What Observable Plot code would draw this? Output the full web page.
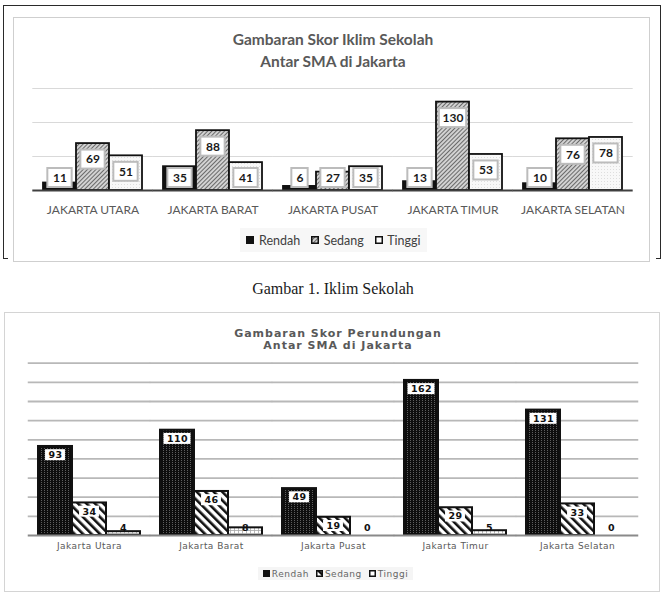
<!DOCTYPE html>
<html>
<head>
<meta charset="utf-8">
<script src="https://cdn.jsdelivr.net/npm/d3@7"></script>
<script src="https://cdn.jsdelivr.net/npm/@observablehq/plot@0.6"></script>
<style>
html,body{margin:0;padding:0;background:#fff;}
#page{position:relative;width:666px;height:596px;overflow:hidden;background:#fff;}
.abs{position:absolute;box-sizing:border-box;}
#outerA{left:3px;top:5px;width:658px;height:254px;border-top:1.5px solid #2a2a2a;border-left:1.5px solid #2a2a2a;border-right:1.5px solid #2a2a2a;}
#tickL{left:3px;top:257.5px;width:5px;height:1.5px;background:#2a2a2a;}
#tickR{left:656px;top:257.5px;width:5px;height:1.5px;background:#2a2a2a;}
#innerA{left:13px;top:17px;width:637px;height:245px;border:1.5px solid #cfcfcf;}
#titleA{left:0;top:29px;width:666px;text-align:center;font-family:Lato;font-weight:bold;font-size:15.5px;line-height:21.7px;color:#595959;}
#chartA{left:14px;top:70px;}
#legendA{left:240px;top:228px;width:187px;height:24px;background:#f7f7f7;display:flex;align-items:center;justify-content:center;font-family:Lato;font-size:12.5px;color:#404040;}
#legendA .it{display:flex;align-items:center;margin:0 5.5px;}
#legendA svg{margin-right:4.5px;}
#caption{left:0;top:280px;width:666px;text-align:center;font-family:"Liberation Serif";font-size:16px;line-height:18px;color:#1a1a1a;}
#frameB{left:4px;top:312px;width:656px;height:280px;border:1px solid #d4d4d4;}
#titleB{left:0;top:327.5px;width:666px;padding-left:10px;text-align:center;font-family:"DejaVu Sans";font-weight:bold;font-size:11px;letter-spacing:1px;line-height:12.6px;color:#595959;}
#chartB{left:4px;top:350px;}
#legendB{left:258px;top:567px;width:155px;height:13px;background:#f5f5f5;display:flex;align-items:center;justify-content:center;font-family:"DejaVu Sans";font-size:9px;letter-spacing:0.5px;color:#666;}
#legendB .it{display:flex;align-items:center;margin:0 3.5px;}
#legendB svg{margin-right:2px;}
</style>
</head>
<body>
<div id="page">
<svg width="0" height="0" style="position:absolute">
<defs>
<pattern id="aSed" width="3" height="3" patternUnits="userSpaceOnUse" patternTransform="rotate(45)">
<rect width="3" height="3" fill="#d2d2d2"/><rect width="1" height="3" fill="#6a6a6a"/>
</pattern>
<pattern id="aTin" width="3" height="3" patternUnits="userSpaceOnUse">
<rect width="3" height="3" fill="#f8f8f8"/><rect width="1" height="1" fill="#dedede"/>
</pattern>
<pattern id="bRen" width="3" height="2" patternUnits="userSpaceOnUse">
<rect width="3" height="2" fill="#0e0e0e"/><rect x="1" width="1" height="1" fill="#5e5e5e"/>
</pattern>
<pattern id="bSed" width="6" height="6" patternUnits="userSpaceOnUse" patternTransform="rotate(-45)">
<rect width="6" height="6" fill="#fff"/><rect width="2.6" height="6" fill="#111"/>
</pattern>
<pattern id="bTin" width="4" height="3" patternUnits="userSpaceOnUse">
<rect width="4" height="3" fill="#fff"/><rect width="4" height="0.8" fill="#a8a8a8"/><rect width="0.8" height="3" fill="#a8a8a8"/>
</pattern>
</defs>
</svg>

<div class="abs" id="outerA"></div>
<div class="abs" id="tickL"></div>
<div class="abs" id="tickR"></div>
<div class="abs" id="innerA"></div>
<div class="abs" id="titleA">Gambaran Skor Iklim Sekolah<br>Antar SMA di Jakarta</div>
<div class="abs" id="chartA"></div>
<div class="abs" id="legendA"></div>
<div class="abs" id="caption">Gambar 1. Iklim Sekolah</div>
<div class="abs" id="frameB"></div>
<div class="abs" id="titleB">Gambaran Skor Perundungan<br>Antar SMA di Jakarta</div>
<div class="abs" id="chartB"></div>
<div class="abs" id="legendB"></div>
</div>

<script>
// ---------- data ----------
const levels = ["Rendah", "Sedang", "Tinggi"];

const iklimRegions = ["JAKARTA UTARA", "JAKARTA BARAT", "JAKARTA PUSAT", "JAKARTA TIMUR", "JAKARTA SELATAN"];
const iklimRendah = [11, 35, 6, 13, 10];
const iklimSedang = [69, 88, 27, 130, 76];
const iklimTinggi = [51, 41, 35, 53, 78];
const iklimGrid = [50, 100, 150];

const bullyRegions = ["Jakarta Utara", "Jakarta Barat", "Jakarta Pusat", "Jakarta Timur", "Jakarta Selatan"];
const bullyRendah = [93, 110, 49, 162, 131];
const bullySedang = [34, 46, 19, 29, 33];
const bullyTinggi = [4, 8, 0, 5, 0];
const bullyGrid = [20, 40, 60, 80, 100, 120, 140, 160, 180];

function rows(regions, series) {
  return regions.flatMap((r, i) => levels.map((l, j) => ({region: r, level: l, value: series[j][i]})));
}

function chart(o) {
  const plotW = o.width - o.ml - o.mr, plotH = o.height - o.mt - o.mb;
  const k = plotH / o.yMax;
  const step = plotW / o.regions.length;
  const ext = step * o.gap / 2;
  const band = step * (1 - o.gap) / levels.length;
  const data = rows(o.regions, o.series).map(d => {
    const px = d.value * k - o.labelDrop;
    const inside = px > o.labelMin;
    return {...d, inside, anchor: (inside ? px : o.labelMin) / k, digits: String(d.value).length};
  });
  const marks = [
    Plot.ruleY(o.grid, {stroke: o.gridColor, strokeWidth: o.gridWidth, insetLeft: -ext, insetRight: -ext})
  ];
  levels.forEach((l, j) => {
    marks.push(Plot.barY(data.filter(d => d.level === l && d.value > 0), {
      fx: "region", x: "level", y: "value",
      fill: o.fills[j], stroke: o.barStroke, strokeWidth: o.barStrokeWidth
    }));
  });
  marks.push(Plot.ruleY([0], {stroke: o.baseColor, strokeWidth: o.baseWidth, insetLeft: -ext, insetRight: -ext}));
  Object.entries(o.boxW).forEach(([dg, w]) => {
    marks.push(Plot.barY(data.filter(d => d.digits == dg && (o.boxAll || d.inside)), {
      fx: "region", x: "level", y1: "anchor", y2: "anchor",
      insetTop: -o.boxH / 2, insetBottom: -o.boxH / 2,
      insetLeft: (band - w) / 2, insetRight: (band - w) / 2,
      fill: "#fff", stroke: o.boxStroke, strokeWidth: o.boxStrokeWidth
    }));
  });
  marks.push(Plot.text(data, {
    fx: "region", x: "level", y: "anchor", text: d => String(d.value),
    fontWeight: "bold", fontSize: o.labelSize, fill: o.labelColor, fontFamily: o.labelFont
  }));
  return Plot.plot({
    width: o.width, height: o.height,
    marginTop: o.mt, marginRight: o.mr, marginBottom: o.mb, marginLeft: o.ml,
    style: o.style,
    fx: {domain: o.regions, paddingInner: o.gap, paddingOuter: o.gap / 2, axis: "bottom", label: null, tickSize: 0, tickPadding: o.tickPad},
    x: {domain: levels, padding: 0, axis: null},
    y: {domain: [0, o.yMax], axis: null},
    marks
  });
}

document.getElementById("chartA").append(chart({
  regions: iklimRegions, series: [iklimRendah, iklimSedang, iklimTinggi],
  width: 635, height: 150, mt: 18, mr: 16, mb: 30, ml: 17,
  yMax: 150, grid: iklimGrid, gap: 0.161,
  gridColor: "#d9d9d9", gridWidth: 1,
  baseColor: "#404040", baseWidth: 2,
  fills: ["#111", "url(#aSed)", "url(#aTin)"], barStroke: "#111", barStrokeWidth: 1.8,
  labelDrop: 16, labelMin: 12.5, boxAll: true,
  boxW: {1: 17, 2: 25, 3: 28}, boxH: 19, boxStroke: "#bcbcbc", boxStrokeWidth: 2,
  labelSize: 12, labelColor: "#1a1a1a", labelFont: "Lato",
  tickPad: 15,
  style: {fontFamily: "Lato", fontSize: "12px", color: "#595959", background: "transparent", overflow: "visible"}
}));

document.getElementById("chartB").append(chart({
  regions: bullyRegions, series: [bullyRendah, bullySedang, bullyTinggi],
  width: 656, height: 205, mt: 12.7, mr: 20, mb: 20, ml: 22,
  yMax: 180, grid: bullyGrid, gap: 0.167,
  gridColor: "#b8b8b8", gridWidth: 1.8,
  baseColor: "#8a8a8a", baseWidth: 2,
  fills: ["url(#bRen)", "url(#bSed)", "url(#bTin)"], barStroke: "#111", barStrokeWidth: 2,
  labelDrop: 8.7, labelMin: 7.7, boxAll: false,
  boxW: {2: 20, 3: 27}, boxH: 11, boxStroke: "none", boxStrokeWidth: 0,
  labelSize: 9.5, labelColor: "#111", labelFont: "DejaVu Sans",
  tickPad: 7,
  style: {fontFamily: "DejaVu Sans", fontSize: "9px", letterSpacing: "0.45px", color: "#595959", background: "transparent", overflow: "visible"}
}));

// ---------- legends ----------
function legend(el, swatches, size) {
  levels.forEach((l, j) => {
    const it = document.createElement("span");
    it.className = "it";
    it.innerHTML = `<svg width="${size}" height="${size}"><rect x="0.75" y="0.75" width="${size - 1.5}" height="${size - 1.5}" fill="${swatches[j]}" stroke="#111" stroke-width="1.5"/></svg><span>${l}</span>`;
    el.append(it);
  });
}
legend(document.getElementById("legendA"), ["#111", "url(#aSed)", "#fff"], 8);
legend(document.getElementById("legendB"), ["#111", "url(#bSed)", "#fff"], 7);
</script>
</body>
</html>
